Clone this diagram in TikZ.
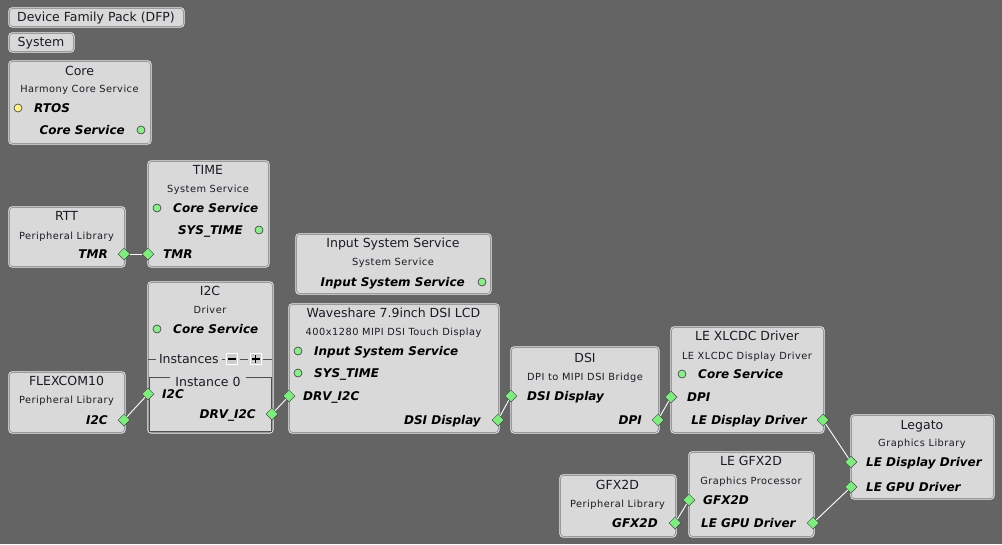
\documentclass[tikz,border=0pt]{standalone}
\usepackage{fontspec}
\setmainfont{DejaVu Sans}
\newfontfamily\subf[LetterSpace=5]{DejaVu Sans}
\usetikzlibrary{shapes.geometric}
\definecolor{bg}{HTML}{646464}
\definecolor{boxfill}{HTML}{D9D9D9}
\definecolor{bordergray}{HTML}{9A9A9A}
\definecolor{borderlight}{HTML}{F2F2F2}
\definecolor{portgreen}{HTML}{7EEC7E}
\definecolor{portedge}{HTML}{4A4A4A}
\definecolor{dotgreen}{HTML}{8CEB8C}
\definecolor{dotyellow}{HTML}{FFF28A}
\definecolor{dotedge}{HTML}{3A3A3A}
\definecolor{titlecol}{HTML}{1A1A24}
\definecolor{instcol}{HTML}{505050}
\tikzset{
  box/.style={rounded corners=3pt, fill=boxfill, draw=bordergray, line width=0.9pt,
    preaction={draw=borderlight, line width=2.4pt}, inner sep=0pt, anchor=north west},
  ttl/.style={font=\fontsize{12.5}{14}\selectfont, text=titlecol, inner sep=0pt, anchor=base, yshift=-4.5pt},
  subt/.style={font=\subf\fontsize{9.8}{11}\selectfont, text=titlecol, inner sep=0pt, anchor=base, yshift=-3.5pt},
  lblw/.style={font=\fontsize{12}{14}\selectfont\bfseries\itshape, inner sep=0pt, anchor=base west, yshift=-4.3pt},
  lble/.style={font=\fontsize{12}{14}\selectfont\bfseries\itshape, inner sep=0pt, anchor=base east, yshift=-4.3pt},
  port/.style={diamond, fill=portgreen, draw=portedge, line width=0.5pt, minimum size=12pt, inner sep=0pt},
  gdot/.style={circle, fill=dotgreen, draw=dotedge, line width=0.6pt, minimum size=8pt, inner sep=0pt},
  ydot/.style={circle, fill=dotyellow, draw=dotedge, line width=0.6pt, minimum size=8pt, inner sep=0pt},
  link/.style={draw=white, line width=0.9pt},
  pmbtn/.style={draw=white, fill=boxfill!85!gray, line width=0.8pt, minimum size=11pt, inner sep=0pt},
}
\begin{document}
\begin{tikzpicture}[x=1pt,y=-1pt]
\fill[bg] (0,0) rectangle (1002,544);
\useasboundingbox (0,0) rectangle (1002,544);

% buttons
\node[box, minimum width=174pt, minimum height=18pt] (dfp) at (9,8) {};
\node[ttl] (dfpt) at (96,17) {Device Family Pack (DFP)};
\node[box, minimum width=64pt, minimum height=18pt] (system) at (9,33) {};
\node[ttl] (systemt) at (41,42) {System};

% Core
\node[box, minimum width=141pt, minimum height=82pt] (core) at (9,61) {};
\node[ttl] (coret) at (79.5,71) {Core};
\node[subt] (cores) at (79.5,89) {Harmony Core Service};
\node[ydot] (coredot1) at (18,108) {};
\node[lblw] (corertos) at (34,108) {RTOS};
\node[lble] (corecs) at (125,130) {Core Service};
\node[gdot] (coredot2) at (141,130) {};

% RTT
\node[box, minimum width=115pt, minimum height=59pt] (rtt) at (9,207) {};
\node[ttl] (rttt) at (66.5,216) {RTT};
\node[subt] (rtts) at (66.5,236) {Peripheral Library};
\node[lble] (rttl) at (108,254) {TMR};
\node[port] (rttTMR) at (124,254) {};

% TIME
\node[box, minimum width=120pt, minimum height=105pt] (time) at (148,161) {};
\node[ttl] (timet) at (208,170) {TIME};
\node[subt] (times) at (208,189) {System Service};
\node[gdot] (timedot1) at (157,208) {};
\node[lblw] (timecs) at (173,208) {Core Service};
\node[lble] (timest) at (243,230) {SYS\_TIME};
\node[gdot] (timedot2) at (259,230) {};
\node[lblw] (timetmr) at (163,254) {TMR};
\node[port] (timeTMR) at (148,254) {};

% Input System Service
\node[box, minimum width=194pt, minimum height=59pt] (iss) at (296,234) {};
\node[ttl] (isst) at (393,243) {Input System Service};
\node[subt] (isss) at (393,262) {System Service};
\node[lble] (issl) at (465,282) {Input System Service};
\node[gdot] (issdot) at (482,282) {};

% I2C driver
\node[box, minimum width=124pt, minimum height=150pt] (i2c) at (148,282) {};
\node[ttl] (i2ct) at (210,291) {I2C};
\node[subt] (i2cs) at (210,310) {Driver};
\node[gdot] (i2cdot) at (157,329) {};
\node[lblw] (i2ccs) at (173,329) {Core Service};
\node[font=\fontsize{12.5}{14}\selectfont, text=titlecol, inner sep=0pt, outer sep=3pt, anchor=base west] (inst) at (156,363.5) {Instances};
\node[pmbtn, outer sep=2pt] (minus) at (232,359) {};
\node[pmbtn, outer sep=2pt] (plus) at (255.5,359) {};
\draw[line width=1.4pt] (228,359) -- (236,359);
\draw[line width=1.4pt] (251.5,359) -- (259.5,359) (255.5,355) -- (255.5,363);
\draw[instcol, line width=0.8pt] (148,359) -- (inst.west |- 148,359);
\draw[instcol, line width=0.8pt] (inst.east |- 148,359) -- (minus.west);
\draw[instcol, line width=0.8pt] (minus.east) -- (plus.west);
\draw[instcol, line width=0.8pt] (plus.east) -- (272,359);
\draw[instcol, line width=1pt] (149,377) rectangle (271,431);
\node[ttl, fill=boxfill, inner xsep=5pt, anchor=center, yshift=0pt] (inst0) at (208,377) {Instance 0};
\node[lblw] (i2ci2c) at (162,394) {I2C};
\node[port] (i2cI2C) at (148,394) {};
\node[lble] (i2cdrv) at (256,414) {DRV\_I2C};
\node[port] (i2cDRV) at (272,414) {};

% FLEXCOM10
\node[box, minimum width=115pt, minimum height=60pt] (flex) at (9,372) {};
\node[ttl] (flext) at (66.5,381) {FLEXCOM10};
\node[subt] (flexs) at (66.5,400) {Peripheral Library};
\node[lble] (flexl) at (108,420) {I2C};
\node[port] (flexI2C) at (124,420) {};

% Waveshare
\node[box, minimum width=209pt, minimum height=128pt] (wave) at (289,304) {};
\node[ttl] (wavet) at (393.5,313) {Waveshare 7.9inch DSI LCD};
\node[subt] (waves) at (393.5,332) {400x1280 MIPI DSI Touch Display};
\node[gdot] (wavedot1) at (298,351) {};
\node[lblw] (waveiss) at (314,351) {Input System Service};
\node[gdot] (wavedot2) at (298,373) {};
\node[lblw] (wavest) at (314,373) {SYS\_TIME};
\node[lblw] (wavedrv) at (303,396) {DRV\_I2C};
\node[port] (waveDRV) at (289,396) {};
\node[lble] (wavedsi) at (481,420) {DSI Display};
\node[port] (waveDSI) at (498,420) {};

% DSI
\node[box, minimum width=147pt, minimum height=85pt] (dsi) at (511,347) {};
\node[ttl] (dsit) at (585,358) {DSI};
\node[subt] (dsis) at (585,377) {DPI to MIPI DSI Bridge};
\node[lblw] (dsidsi) at (527,396) {DSI Display};
\node[port] (dsiDSI) at (511,396) {};
\node[lble] (dsidpi) at (642,420) {DPI};
\node[port] (dsiDPI) at (658,420) {};

% LE XLCDC
\node[box, minimum width=152pt, minimum height=105pt] (xlcdc) at (671,327) {};
\node[ttl] (xt) at (747,336) {LE XLCDC Driver};
\node[subt] (xs) at (747,356) {LE XLCDC Display Driver};
\node[gdot] (xdot) at (682,374) {};
\node[lblw] (xcs) at (698,374) {Core Service};
\node[lblw] (xdpi) at (687,397) {DPI};
\node[port] (xDPI) at (671,397) {};
\node[lble] (xle) at (807,420) {LE Display Driver};
\node[port] (xLE) at (823,420) {};

% Legato
\node[box, minimum width=142pt, minimum height=83pt] (legato) at (851,415) {};
\node[ttl] (legt) at (922,425) {Legato};
\node[subt] (legs) at (922,443) {Graphics Library};
\node[lblw] (legdl) at (866,462) {LE Display Driver};
\node[port] (legDisp) at (851,462) {};
\node[lblw] (leggl) at (866,487) {LE GPU Driver};
\node[port] (legGPU) at (851,487) {};

% LE GFX2D
\node[box, minimum width=124pt, minimum height=84pt] (gpu) at (689,452) {};
\node[ttl] (gput) at (751,461) {LE GFX2D};
\node[subt] (gpus) at (751,481) {Graphics Processor};
\node[lblw] (gpugfx) at (703,500) {GFX2D};
\node[port] (gpuGFX) at (689,500) {};
\node[lblw] (gpule) at (701,523) {LE GPU Driver};
\node[port] (gpuLE) at (813,523) {};

% GFX2D
\node[box, minimum width=115pt, minimum height=61pt] (gfx) at (560,475) {};
\node[ttl] (gfxt) at (617.5,485) {GFX2D};
\node[subt] (gfxs) at (617.5,504) {Peripheral Library};
\node[lble] (gfxl) at (658,523) {GFX2D};
\node[port] (gfxGFX) at (675,523) {};

% links
\draw[link] (rttTMR) -- (timeTMR);
\draw[link] (flexI2C) -- (i2cI2C);
\draw[link] (i2cDRV) -- (waveDRV);
\draw[link] (waveDSI) -- (dsiDSI);
\draw[link] (dsiDPI) -- (xDPI);
\draw[link] (xLE) -- (legDisp);
\draw[link] (gfxGFX) -- (gpuGFX);
\draw[link] (gpuLE) -- (legGPU);
\end{tikzpicture}
\end{document}
